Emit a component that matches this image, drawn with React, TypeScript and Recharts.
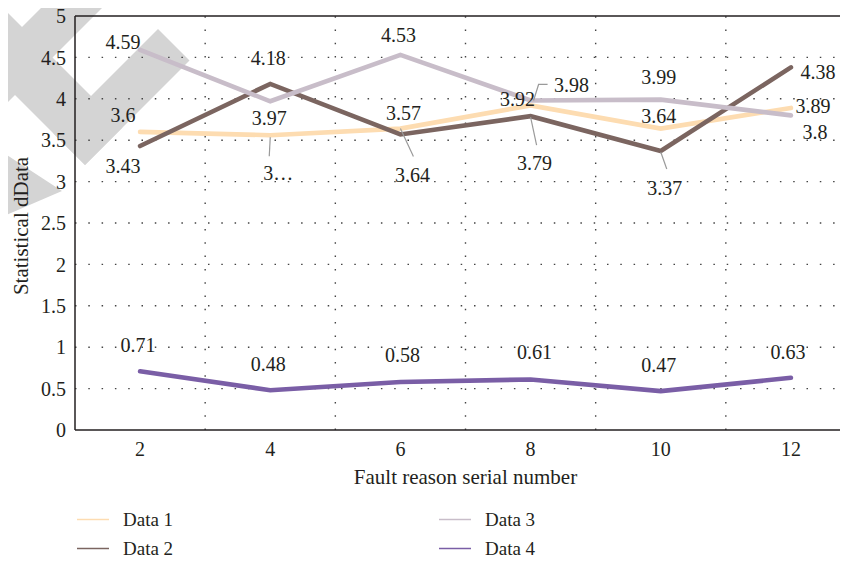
import React from "react";
import { LineChart, Line, XAxis, YAxis, ReferenceLine, LabelList } from "recharts";

// Fault reason serial numbers on the x axis
const categories = [2, 4, 6, 8, 10, 12];

// Statistical values per series
const data1 = [3.6, 3.56, 3.64, 3.92, 3.64, 3.89];
const data2 = [3.43, 4.18, 3.57, 3.79, 3.37, 4.38];
const data3 = [4.59, 3.97, 4.53, 3.98, 3.99, 3.8];
const data4 = [0.71, 0.48, 0.58, 0.61, 0.47, 0.63];

const seriesNames = ["Data 1", "Data 2", "Data 3", "Data 4"];

// Printed labels that were clipped in the original figure
const clippedLabels: (string | null)[][] = [
  [null, "3…", null, null, null, null],
  [null, null, null, null, null, null],
  [null, null, null, null, null, null],
  [null, null, null, null, null, null],
];

const yTicks = [0, 0.5, 1, 1.5, 2, 2.5, 3, 3.5, 4, 4.5, 5];
const yGridValues = [0.5, 1, 1.5, 2, 2.5, 3, 3.5, 4, 4.5];
const xGridValues = [3, 5, 7, 9, 11];

const rows = categories.map((c, i) => ({
  x: c,
  d1: data1[i],
  d2: data2[i],
  d3: data3[i],
  d4: data4[i],
}));

const FONT = "'Liberation Serif', 'Times New Roman', serif";
const INK = "#231f20";
const COLORS = ["#fddcb1", "#7b6560", "#c8bdc9", "#7a5ea6"];
const LEADER = "#9a9a9a";
const DOTS = "1.5 11.8";
const LABEL_SIZE = 20;
const TITLE_SIZE = 21;

// Label offsets (px) relative to each point, with optional leader polylines
type Place = { dx: number; dy: number; leader?: [number, number][] };
const placements: Place[][] = [
  [
    { dx: -17, dy: -17 },
    { dx: 8, dy: 38, leader: [[0, 2], [-1, 21]] },
    { dx: 12, dy: 47, leader: [[0, 0], [13, 28]] },
    { dx: -13, dy: -6 },
    { dx: -2, dy: -12 },
    { dx: 22, dy: -2 },
  ],
  [
    { dx: -17, dy: 20 },
    { dx: -2, dy: -26 },
    { dx: 3, dy: -21 },
    { dx: 4, dy: 47, leader: [[0, 1], [6, 29]] },
    { dx: 4, dy: 37, leader: [[0, 1], [6, 18]] },
    { dx: 27, dy: 5 },
  ],
  [
    { dx: -17, dy: -8 },
    { dx: -1, dy: 17 },
    { dx: -2, dy: -20 },
    { dx: 41, dy: -15, leader: [[3, 0], [8, -16], [17, -16]] },
    { dx: -2, dy: -22 },
    { dx: 24, dy: 17 },
  ],
  [
    { dx: -2, dy: -26 },
    { dx: -2, dy: -26 },
    { dx: 2, dy: -27 },
    { dx: 4, dy: -27 },
    { dx: -2, dy: -26 },
    { dx: -3, dy: -26 },
  ],
];

function makeLabel(series: number) {
  return (props: any) => {
    const index: number = props.index ?? 0;
    const px: number = props.x ?? props.viewBox?.x;
    const py: number = props.y ?? props.viewBox?.y;
    if (px == null || py == null) return null;
    const place = placements[series][index];
    if (!place) return null;
    const text = clippedLabels[series][index] ?? String(props.value);
    return (
      <g key={`lbl-${series}-${index}`}>
        {place.leader && (
          <polyline
            points={place.leader.map(([lx, ly]) => `${px + lx},${py + ly}`).join(" ")}
            fill="none"
            stroke={LEADER}
            strokeWidth={1.2}
          />
        )}
        <text
          x={px + place.dx}
          y={py + place.dy}
          dy="0.34em"
          textAnchor="middle"
          fill={INK}
          fontSize={LABEL_SIZE}
          fontFamily={FONT}
        >
          {text}
        </text>
      </g>
    );
  };
}

function YTitle(props: any) {
  const vb = props.viewBox ?? { x: 15, y: 16, width: 60, height: 414 };
  const cx = vb.x + 13;
  const cy = vb.y + vb.height / 2 + 3;
  return (
    <text
      transform={`translate(${cx},${cy}) rotate(-90)`}
      textAnchor="middle"
      fill={INK}
      fontSize={TITLE_SIZE}
      fontFamily={FONT}
    >
      Statistical dData
    </text>
  );
}

// Two-column legend below the x axis title
function LegendBlock() {
  return (
    <svg
      width={848}
      height={70}
      style={{ position: "absolute", left: 0, top: 490 }}
    >
      {seriesNames.map((name, i) => {
        const col = Math.floor(i / 2);
        const row = i % 2;
        const x0 = col === 0 ? 77 : 439;
        const y0 = 29.5 + row * 29;
        return (
          <g key={name}>
            <line x1={x0} x2={x0 + 32} y1={y0} y2={y0} stroke={COLORS[i]} strokeWidth={1.5} />
            <text x={x0 + 46} y={y0} dy="0.34em" fill={INK} fontSize={19} fontFamily={FONT}>
              {name}
            </text>
          </g>
        );
      })}
    </svg>
  );
}

// Light grey stripe pattern printed behind the upper-left corner
function Backdrop() {
  const fill = "#d4d4d4";
  return (
    <svg
      width={848}
      height={561}
      style={{ position: "absolute", left: 0, top: 0 }}
    >
      <polygon points="-10,-5 122.5,127.5 85,165 -10,70" fill={fill} />
      <polygon points="53.5,133.5 158,29 189.5,60.5 85,165" fill={fill} />
      <polygon points="59,-10 120,-10 -10,120 -10,59" fill={fill} />
      <polygon points="-10,144 62,191 -10,222" fill={fill} />
    </svg>
  );
}

export default function App() {
  const keys = ["d1", "d2", "d3", "d4"];
  return (
    <div
      style={{
        position: "relative",
        width: 848,
        height: 569,
        margin: -8,
        overflow: "hidden",
        background: "#ffffff",
      }}
    >
      <Backdrop />
      <div style={{ position: "absolute", left: 0, top: 0 }}>
        <LineChart
          width={870}
          height={561}
          data={rows}
          margin={{ top: 16, right: 14, bottom: 71, left: 15 }}
          style={{ fontFamily: FONT }}
        >
          <XAxis
            dataKey="x"
            type="number"
            domain={[1, 13]}
            ticks={categories}
            interval={0}
            tickLine={false}
            tickSize={6}
            tickMargin={6}
            height={60}
            axisLine={{ stroke: INK, strokeWidth: 1.5 }}
            tick={{ fill: INK, fontSize: LABEL_SIZE, fontFamily: FONT }}
            label={{
              value: "Fault reason serial number",
              position: "insideBottom",
              offset: 6,
              fill: INK,
              fontSize: TITLE_SIZE,
              fontFamily: FONT,
            }}
          />
          <YAxis
            type="number"
            domain={[0, 5]}
            ticks={yTicks}
            interval={0}
            width={60}
            tickLine={false}
            tickSize={6}
            tickMargin={3}
            axisLine={{ stroke: INK, strokeWidth: 1.5 }}
            tick={{ fill: INK, fontSize: LABEL_SIZE, fontFamily: FONT }}
            label={<YTitle />}
          />
          {yGridValues.map((v) => (
            <ReferenceLine key={`gy${v}`} y={v} stroke="#444" strokeWidth={1.4} strokeDasharray={DOTS} />
          ))}
          {xGridValues.map((v) => (
            <ReferenceLine key={`gx${v}`} x={v} stroke="#444" strokeWidth={1.4} strokeDasharray={DOTS} />
          ))}
          <ReferenceLine y={5} stroke={INK} strokeWidth={1.5} />
          {keys.map((k, s) => (
            <Line
              key={k}
              dataKey={k}
              name={seriesNames[s]}
              type="linear"
              stroke={COLORS[s]}
              strokeWidth={4.6}
              strokeLinecap="round"
              strokeLinejoin="miter"
              dot={false}
              activeDot={false}
              isAnimationActive={false}
            >
              <LabelList dataKey={k} content={makeLabel(s)} />
            </Line>
          ))}
        </LineChart>
      </div>
      <LegendBlock />
    </div>
  );
}
